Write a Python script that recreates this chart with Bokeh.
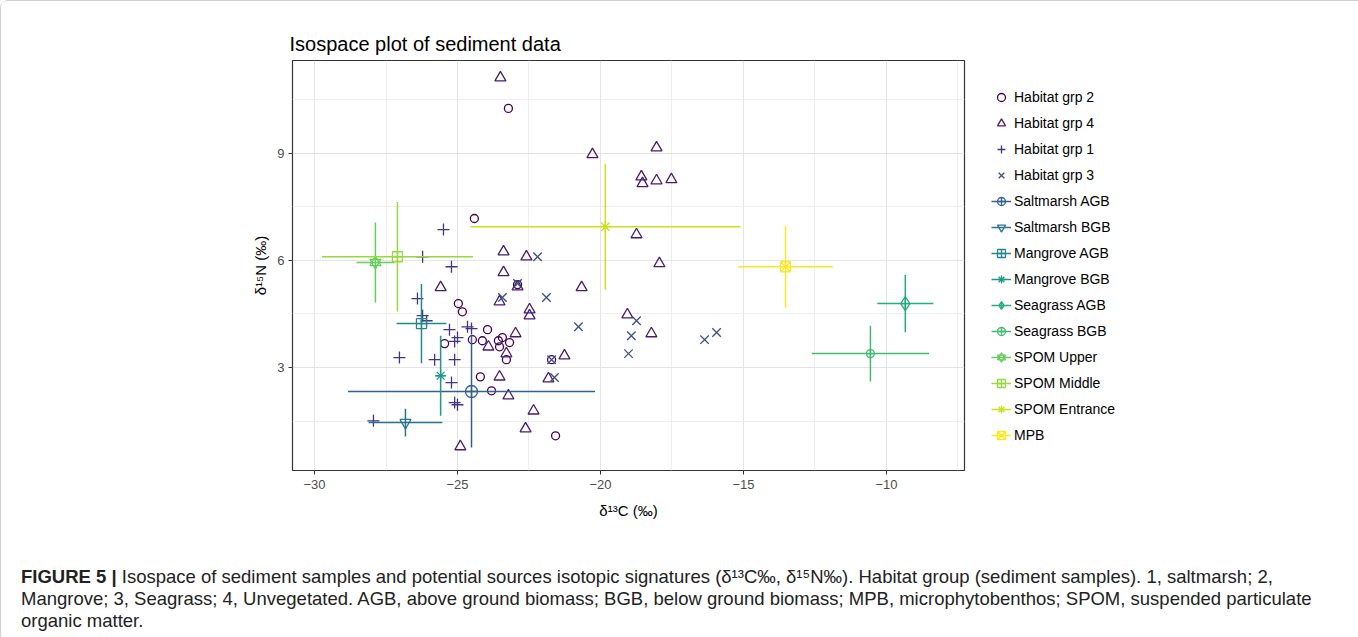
from bokeh.plotting import figure
from bokeh.models import ColumnDataSource, FixedTicker, Legend, LegendItem, Range1d, Div
from bokeh.layouts import column
from bokeh.embed import file_html
from bokeh.resources import INLINE

# ---------------- data ----------------
grp2_x = [-23.22, -24.41, -24.97, -24.83, -23.95, -24.48, -24.13, -25.45, -23.57, -23.43,
          -23.18, -23.53, -23.29, -22.90, -21.71, -24.20, -23.81, -21.57]
grp2_y = [10.25, 7.17, 4.79, 4.56, 4.06, 3.78, 3.75, 3.67, 3.75, 3.84,
          3.70, 3.58, 3.22, 5.32, 3.22, 2.74, 2.35, 1.09]

grp4_x = [-23.50, -20.28, -18.04, -18.57, -18.53, -18.04, -17.52, -18.74, -23.39, -22.59,
          -17.94, -23.39, -25.59, -22.90, -20.66, -23.53, -19.06, -22.48, -22.48, -22.97,
          -18.22, -23.92, -23.29, -21.26, -21.82, -23.53, -23.22, -22.34, -22.62, -24.90]
grp4_y = [11.11, 8.96, 9.15, 8.34, 8.15, 8.23, 8.26, 6.72, 6.24, 6.10,
          5.91, 5.66, 5.24, 5.26, 5.24, 4.84, 4.48, 4.62, 4.45, 3.95,
          3.95, 3.58, 3.39, 3.33, 2.69, 2.74, 2.21, 1.79, 1.29, 0.79]

grp1_x = [-25.49, -26.22, -25.21, -26.40, -26.22, -26.08, -25.28, -25.00, -24.65, -24.51,
          -27.03, -25.80, -25.10, -25.21, -25.10, -25.00, -27.94, -25.10]
grp1_y = [6.86, 6.10, 5.82, 4.93, 4.45, 4.31, 4.06, 3.84, 4.14, 4.09,
          3.28, 3.22, 3.22, 2.58, 2.02, 1.96, 1.51, 3.73]

grp3_x = [-22.20, -22.90, -23.43, -21.89, -20.77, -21.71, -21.61, -18.74, -18.92, -19.02,
          -16.36, -15.94]
grp3_y = [6.10, 5.35, 4.96, 4.96, 4.14, 3.22, 2.72, 4.31, 3.89, 3.39,
          3.78, 3.98]

habitat_names = ["Habitat grp 2", "Habitat grp 4", "Habitat grp 1", "Habitat grp 3"]

source_names = ["Saltmarsh AGB", "Saltmarsh BGB", "Mangrove AGB", "Mangrove BGB",
                "Seagrass AGB", "Seagrass BGB", "SPOM Upper", "SPOM Middle",
                "SPOM Entrance", "MPB"]
source_mean_x = [-24.51, -26.82, -26.26, -25.59, -9.34, -10.56, -27.87, -27.10, -19.83, -13.53]
source_mean_y = [2.33, 1.46, 4.23, 2.77, 4.79, 3.39, 5.94, 6.10, 6.94, 5.82]
source_sd_x = [4.32, 1.29, 0.87, 0.15, 0.98, 2.05, 0.66, 2.64, 4.72, 1.66]
source_sd_y = [1.57, 0.39, 1.11, 1.12, 0.80, 0.78, 1.12, 1.53, 1.76, 1.15]

x_ticks = [-30, -25, -20, -15, -10]
y_ticks = [3, 6, 9]

title_text = "Isospace plot of sediment data"
x_label = "\u03b4\u00b9\u00b3C (\u2030)"
y_label = "\u03b4\u00b9\u2075N (\u2030)"
caption_bold = "FIGURE 5 |"
caption_lines = [
    "Isospace of sediment samples and potential sources isotopic signatures (\u03b4\u00b9\u00b3C\u2030, \u03b4\u00b9\u2075N\u2030). Habitat group (sediment samples). 1, saltmarsh; 2,",
    "Mangrove; 3, Seagrass; 4, Unvegetated. AGB, above ground biomass; BGB, below ground biomass; MPB, microphytobenthos; SPOM, suspended particulate",
    "organic matter.",
]

# ---------------- styles ----------------
palette = ["#440154", "#481C6E", "#453581", "#3D4D8A", "#34618D", "#2B748E", "#24878E",
           "#1F998A", "#25AC82", "#40BC72", "#67CC5C", "#97D83F", "#CBE11E", "#FDE725"]
FONT = "Liberation Sans"

p = figure(frame_width=672, frame_height=410,
           x_range=Range1d(-30.77, -7.27), y_range=Range1d(0.12, 11.59),
           output_backend="svg", toolbar_location=None,
           min_border_left=291, min_border_right=377, min_border_top=59, min_border_bottom=74,
           background_fill_color="white", border_fill_color="white")

p.title.text = title_text
p.title.text_font = FONT
p.title.text_font_size = "20px"
p.title.text_font_style = "normal"
p.title.text_color = "#000000"
p.title.offset = -3
p.title.standoff = 11

p.outline_line_color = "#333333"
p.outline_line_width = 1.2

def minor_of(ticks):
    step = ticks[1] - ticks[0]
    return [ticks[0] - step / 2] + [t + step / 2 for t in ticks]

p.xaxis.ticker = FixedTicker(ticks=x_ticks, minor_ticks=minor_of(x_ticks))
p.yaxis.ticker = FixedTicker(ticks=y_ticks, minor_ticks=minor_of(y_ticks))
p.xaxis.axis_label = x_label
p.yaxis.axis_label = y_label
for ax in (p.xaxis, p.yaxis):
    ax.axis_line_color = None
    ax.major_tick_line_color = "#333333"
    ax.major_tick_out = 4
    ax.major_tick_in = 0
    ax.minor_tick_line_color = None
    ax.major_label_text_font = FONT
    ax.major_label_text_font_size = "13px"
    ax.major_label_text_color = "#4d4d4d"
    ax.axis_label_text_font = FONT
    ax.axis_label_text_font_size = "15px"
    ax.axis_label_text_font_style = "normal"
    ax.axis_label_text_color = "#000000"
p.xaxis.axis_label_standoff = 10
p.yaxis.axis_label_standoff = 5
p.yaxis.major_label_standoff = 4

for g in (p.xgrid, p.ygrid):
    g.grid_line_color = "#e4e4e4"
    g.grid_line_width = 1
    g.minor_grid_line_color = "#eeeeee"
    g.minor_grid_line_width = 1

items = []

hab_data = [(grp2_x, grp2_y), (grp4_x, grp4_y), (grp1_x, grp1_y), (grp3_x, grp3_y)]
hab_markers = ["circle", "triangle", "cross", "x"]
hab_sizes = [8, 11, 12, 12]
for i, (xs, ys) in enumerate(hab_data):
    src = ColumnDataSource(dict(x=xs, y=ys))
    r = p.scatter("x", "y", source=src, marker=hab_markers[i], size=hab_sizes[i],
                  fill_color=None, line_color=palette[i], line_width=1.3)
    items.append(LegendItem(label=habitat_names[i], renderers=[r]))

src_markers = ["circle_cross", "inverted_triangle", "square_cross", "asterisk", "diamond_cross",
               "circle_cross", "star_david", "square_cross", "asterisk", "square_x"]
src_sizes = [12, 11, 10, 11, 14, 8, 11, 10, 12, 10]
for i, name in enumerate(source_names):
    col = palette[4 + i]
    mx, my, sx, sy = source_mean_x[i], source_mean_y[i], source_sd_x[i], source_sd_y[i]
    src = ColumnDataSource(dict(x=[mx], y=[my], xl=[mx - sx], xr=[mx + sx],
                                yb=[my - sy], yt=[my + sy]))
    rh = p.segment(x0="xl", x1="xr", y0="y", y1="y", source=src, line_color=col, line_width=1.5)
    rv = p.segment(x0="x", x1="x", y0="yb", y1="yt", source=src, line_color=col, line_width=1.5)
    rends = [rh]
    if src_markers[i] == "star_david":
        r1 = p.scatter("x", "y", source=src, marker="triangle", size=src_sizes[i],
                       fill_color=None, line_color=col, line_width=1.3)
        r2 = p.scatter("x", "y", source=src, marker="inverted_triangle", size=src_sizes[i],
                       fill_color=None, line_color=col, line_width=1.3)
        rends += [r1, r2]
    else:
        r = p.scatter("x", "y", source=src, marker=src_markers[i], size=src_sizes[i],
                      fill_color=None, line_color=col, line_width=1.3)
        rends.append(r)
    items.append(LegendItem(label=name, renderers=rends))

legend = Legend(items=items, location="top_left")
legend.padding = 0
legend.margin = 27
legend.spacing = 6
legend.glyph_width = 20
legend.glyph_height = 20
legend.label_height = 20
legend.label_standoff = 3
legend.label_text_font = FONT
legend.label_text_font_size = "14px"
legend.label_text_color = "#000000"
legend.border_line_color = None
legend.background_fill_alpha = 0
p.add_layout(legend, "right")

cap_html = (
    '<div style="margin:0; padding:17px 0 0 15px; font-family:\'Liberation Sans\', Arial, sans-serif; '
    'font-size:18.5px; line-height:22px; color:#222222; white-space:nowrap;">'
    '<b>' + caption_bold + '</b> ' + caption_lines[0] + '<br>' + caption_lines[1] + '<br>'
    + caption_lines[2] + '</div>'
)
cap = Div(text=cap_html, width=1340, height=88)

layout = column(p, cap, styles={"border": "1px solid #cfcfcf", "border-radius": "8px",
                                "background-color": "white"})

open("out.html", "w").write(file_html(layout, INLINE))
